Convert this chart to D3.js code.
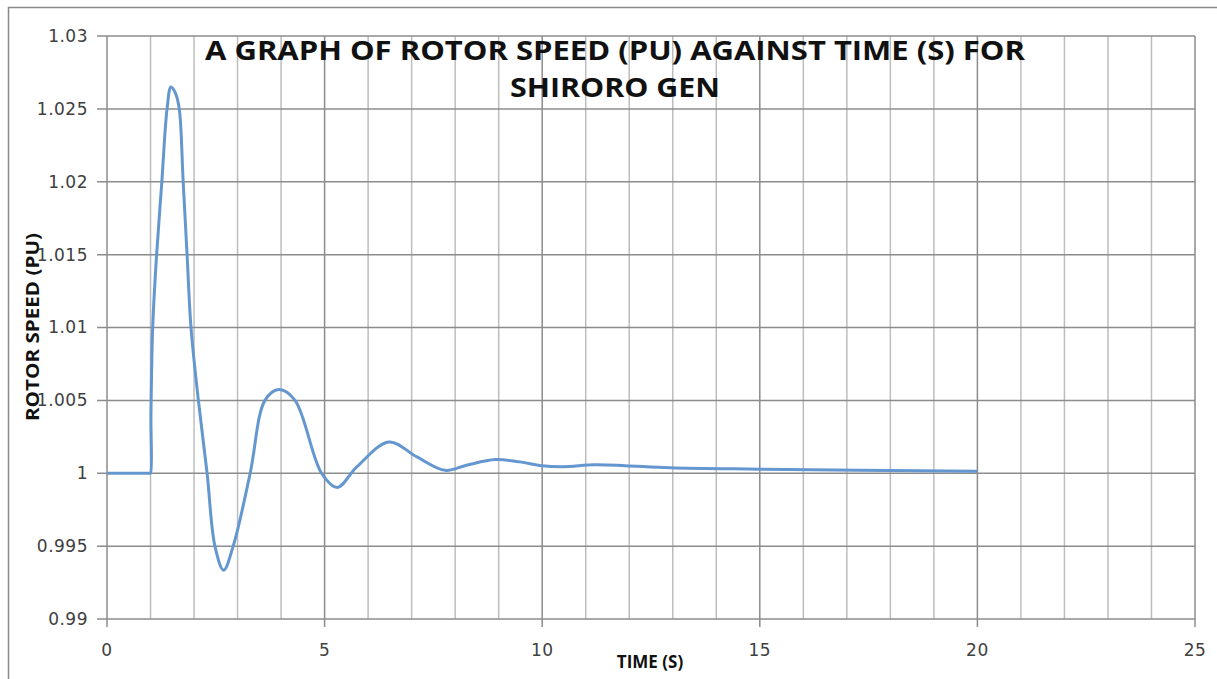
<!DOCTYPE html>
<html>
<head>
<meta charset="utf-8">
<script src="https://cdn.jsdelivr.net/npm/d3@7"></script>
<style>
  body { margin: 0; background: #fff; }
</style>
</head>
<body>
<div id="chart"></div>
<script>
// time (s) and rotor speed (pu)
const timeS = [0, 0.5, 0.98, 1, 1.01, 1.05, 1.14, 1.26, 1.38, 1.47, 1.57, 1.66, 1.75, 1.84, 1.93, 2.1, 2.3, 2.48, 2.68, 2.9, 3.29, 3.63, 3.95, 4.32, 4.93, 5.29, 5.74, 6.48, 7.12, 7.77, 8.26, 8.92, 9.49, 9.99, 10.48, 11.2, 11.9, 12.94, 15, 20];
const speedPU = [1.0, 1.0, 1.0, 1.0, 1.004, 1.010, 1.015, 1.020, 1.025, 1.0265, 1.0261, 1.025, 1.020, 1.015, 1.010, 1.005, 1.0, 0.995, 0.99335, 0.995, 1.0, 1.005, 1.00574, 1.005, 1.0, 0.99903, 1.00043, 1.00215, 1.00112, 1.0002, 1.00055, 1.00094, 1.00078, 1.00052, 1.00045, 1.00058, 1.00052, 1.00037, 1.00028, 1.00014];
const xTicks = [0, 5, 10, 15, 20, 25];
const yTicks = [0.99, 0.995, 1, 1.005, 1.01, 1.015, 1.02, 1.025, 1.03];
const titleLines = ["A GRAPH OF ROTOR SPEED (PU) AGAINST TIME (S) FOR", "SHIRORO GEN"];

const W = 1217, H = 679;
const margin = {top: 36, right: 22, bottom: 60, left: 107};
const boldFont = '"Open Sans", "DejaVu Sans", sans-serif';
const tickFont = '"DejaVu Sans", sans-serif';

const svg = d3.select("#chart").append("svg")
  .attr("width", W).attr("height", H);

// chart frame
svg.append("path")
  .attr("d", "M8.5," + (H + 5) + "V7.5H" + (W + 5))
  .attr("fill", "none").attr("stroke", "#8a8a8a").attr("stroke-width", 1.5);

const x = d3.scaleLinear().domain([0, 25]).range([margin.left, 1195]);
const y = d3.scaleLinear().domain([0.99, 1.03]).range([619, margin.top]);

const grid = svg.append("g");
// minor vertical grid every second
grid.selectAll(".vminor")
  .data(d3.range(0, 26).filter(d => d % 5 !== 0))
  .enter().append("line")
  .attr("x1", d => x(d)).attr("x2", d => x(d))
  .attr("y1", y(1.03)).attr("y2", y(0.99))
  .attr("stroke", "#bdbdbd").attr("stroke-width", 1.5);
grid.selectAll(".vmajor")
  .data(xTicks)
  .enter().append("line")
  .attr("x1", d => x(d)).attr("x2", d => x(d))
  .attr("y1", y(1.03)).attr("y2", y(0.99) + 8)
  .attr("stroke", "#8c8c8c").attr("stroke-width", 1.5);
grid.selectAll(".hmajor")
  .data(yTicks)
  .enter().append("line")
  .attr("x1", x(0) - 10).attr("x2", x(25))
  .attr("y1", d => y(d)).attr("y2", d => y(d))
  .attr("stroke", "#8c8c8c").attr("stroke-width", 1.5);

// tick labels
svg.append("g").selectAll("text")
  .data(yTicks)
  .enter().append("text")
  .attr("x", 88).attr("y", d => y(d))
  .attr("dy", "0.35em")
  .attr("text-anchor", "end")
  .style("font-family", tickFont)
  .style("letter-spacing", "0.5px")
  .attr("font-size", 17).attr("fill", "#404040")
  .text(d => d3.format("")(d));

svg.append("g").selectAll("text")
  .data(xTicks)
  .enter().append("text")
  .attr("x", d => x(d)).attr("y", 656)
  .attr("text-anchor", "middle")
  .style("font-family", tickFont)
  .style("letter-spacing", "0.5px")
  .attr("font-size", 17).attr("fill", "#404040")
  .text(d => d);

// the series
const pts = timeS.map((t, i) => [t, speedPU[i]]);
svg.append("path")
  .datum(pts)
  .attr("fill", "none")
  .attr("stroke", "#6496cf")
  .attr("stroke-width", 3)
  .attr("stroke-linejoin", "round")
  .attr("d", d3.line().x(d => x(d[0])).y(d => y(d[1])).curve(d3.curveCatmullRom.alpha(0.5)));

// title
svg.append("g").selectAll("text")
  .data(titleLines)
  .enter().append("text")
  .attr("x", 615).attr("y", (d, i) => 60 + i * 37)
  .attr("text-anchor", "middle")
  .style("font-family", boldFont)
  .attr("font-size", 26).attr("font-weight", "bold").attr("fill", "#111")
  .attr("textLength", (d, i) => i === 0 ? 820 : 210)
  .attr("lengthAdjust", "spacingAndGlyphs")
  .text(d => d);

// axis titles
svg.append("text")
  .attr("x", 650).attr("y", 668)
  .attr("text-anchor", "middle")
  .style("font-family", boldFont)
  .attr("font-size", 17).attr("font-weight", "bold").attr("fill", "#111")
  .text("TIME (S)");

svg.append("text")
  .attr("transform", "translate(39,327) rotate(-90)")
  .attr("text-anchor", "middle")
  .style("font-family", boldFont)
  .attr("font-size", 17).attr("font-weight", "bold").attr("fill", "#111")
  .attr("textLength", 188).attr("lengthAdjust", "spacingAndGlyphs")
  .text("ROTOR SPEED (PU)");
</script>
</body>
</html>
